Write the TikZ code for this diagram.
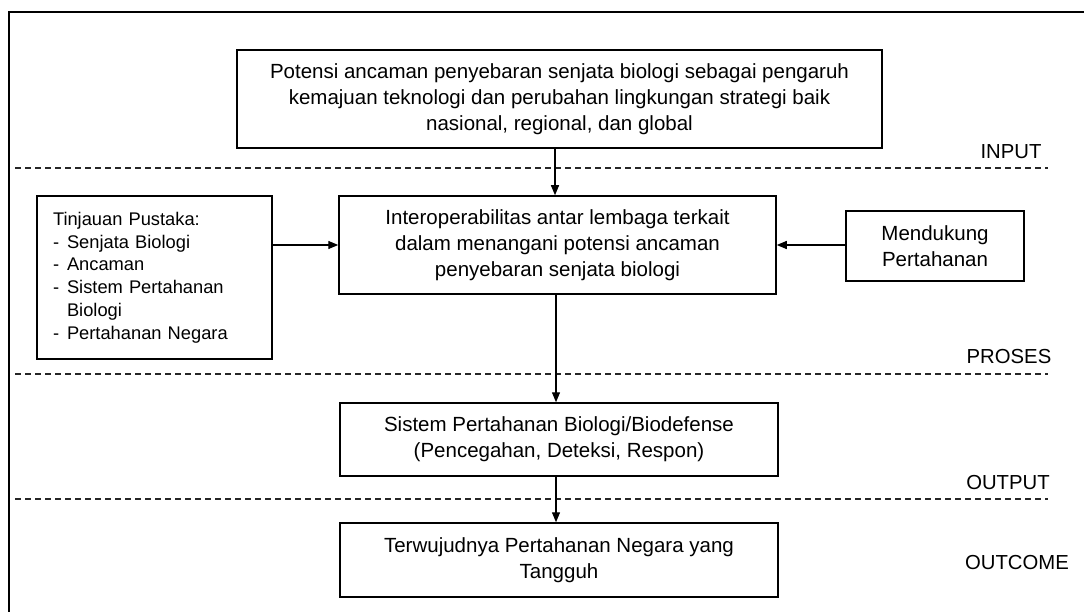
\documentclass[tikz,border=0pt]{standalone}
\usepackage{fontspec}
\setmainfont{Liberation Sans}
\usetikzlibrary{arrows.meta}
\begin{document}
\begin{tikzpicture}[x=1pt,y=-1pt,
  box/.style={draw, line width=1.5pt, inner sep=0pt, align=center,
    font=\fontsize{20.5}{26}\selectfont},
  lbox/.style={draw, line width=1.5pt, inner ysep=0pt, inner xsep=16pt, align=left,
    text width=203pt, font=\fontsize{18.3}{22.8}\selectfont},
  lab/.style={inner sep=0pt, font=\fontsize{20.3}{24}\selectfont},
  sepline/.style={line width=1.1pt, dash pattern=on 6pt off 4pt, black!85},
  arr/.style={line width=1.3pt, -{Triangle[length=10pt,width=8pt]}}
]
\useasboundingbox (0,0) rectangle (1084,612);
\draw[line width=1.8pt] (9,612) -- (9,12) -- (1090,12);

\node[box, minimum width=645pt, minimum height=98pt] (top) at (559.5,99)
  {Potensi ancaman penyebaran senjata biologi sebagai pengaruh\\
   kemajuan teknologi dan perubahan lingkungan strategi baik\\
   nasional, regional, dan global};
\node[box, minimum width=437pt, minimum height=98pt] (mid) at (557.5,245)
  {Interoperabilitas antar lembaga terkait\\
   dalam menangani potensi ancaman\\
   penyebaran senjata biologi};
\node[lbox, minimum height=163pt] (lit) at (154.5,277.5)
  {Tinjauan Pustaka:\\
   \makebox[14pt][l]{-}Senjata Biologi\\
   \makebox[14pt][l]{-}Ancaman\\
   \makebox[14pt][l]{-}Sistem Pertahanan\\
   \hspace*{14pt}Biologi\\
   \makebox[14pt][l]{-}Pertahanan Negara};
\node[box, minimum width=178pt, minimum height=70pt] (men) at (935,246)
  {Mendukung\\Pertahanan};
\node[box, minimum width=438pt, minimum height=73pt] (sys) at (559,439.5)
  {Sistem Pertahanan Biologi/Biodefense\\
   (Pencegahan, Deteksi, Respon)};
\node[box, minimum width=438pt, minimum height=74pt] (out) at (559,560)
  {Terwujudnya Pertahanan Negara yang\\Tangguh};

\node[lab] (linput) at (1011,152) {INPUT};
\node[lab] (lproses) at (1009,357) {PROSES};
\node[lab] (loutput) at (1008,483) {OUTPUT};
\node[lab] (loutcome) at (1017,563) {OUTCOME};

\draw[sepline] (15,168) -- (1048,168);
\draw[sepline] (15,374) -- (1048,374);
\draw[sepline] (15,499) -- (1048,499);

\coordinate (ta) at ([xshift=-4.5pt]top.south);
\draw[arr] (ta) -- (ta |- mid.north);
\draw[arr] (lit.east |- mid.west) -- (mid.west);
\draw[arr] (men.west |- mid.east) -- (mid.east);
\coordinate (tb) at ([xshift=-1.5pt]mid.south);
\draw[arr] (tb) -- (tb |- sys.north);
\coordinate (tc) at ([xshift=-3pt]sys.south);
\draw[arr] (tc) -- (tc |- out.north);
\end{tikzpicture}
\end{document}
